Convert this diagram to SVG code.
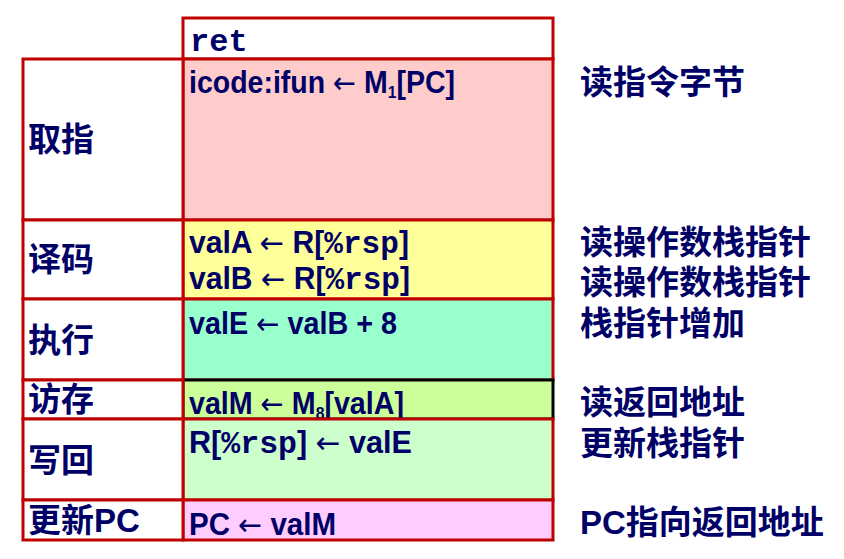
<svg xmlns="http://www.w3.org/2000/svg" width="844" height="559" viewBox="0 0 844 559">
<style>
.cell{stroke:#C00000;stroke-width:3}
.blk{stroke:#000000;stroke-width:3}
.t{font-family:"Liberation Sans",Arial,sans-serif;font-weight:bold;font-size:31px;fill:#000066}
.m{font-family:"Liberation Mono","Courier New",monospace;font-weight:bold;font-size:32px}
.ar{font-family:"DejaVu Sans",sans-serif;font-weight:normal;font-size:30px}
.cj{font-family:"Liberation Sans","Noto Sans CJK SC",sans-serif;font-weight:bold;font-size:33px;fill:#000066}
.sub{font-size:17px}
</style>
<rect width="844" height="559" fill="#ffffff"/>
<g id="ret-cell">
<rect class="cell" x="183" y="18" width="370" height="41" fill="#ffffff"/>
<text class="t m" x="190" y="51">ret</text>
</g>
<g id="fetch-cell">
<rect class="cell" x="183" y="59" width="370" height="161" fill="#FFCCCC"/>
<text class="t" transform="translate(189,93) scale(0.919,1)">icode:ifun <tspan class="ar">←</tspan> M<tspan class="sub" dy="5">1</tspan><tspan dy="-5">[PC]</tspan></text>
</g>
<g id="decode-cell">
<rect class="cell" x="183" y="220" width="370" height="79" fill="#FFFF99"/>
<text class="t" transform="translate(189,253) scale(0.971,1)">valA <tspan class="ar">←</tspan> R[<tspan class="m">%rsp</tspan>]</text>
<text class="t" transform="translate(189,289) scale(0.971,1)">valB <tspan class="ar">←</tspan> R[<tspan class="m">%rsp</tspan>]</text>
</g>
<g id="execute-cell">
<rect class="cell" x="183" y="299" width="370" height="81" fill="#99FFCC"/>
<text class="t" transform="translate(189,334) scale(0.928,1)">valE <tspan class="ar">←</tspan> valB + 8</text>
</g>
<g id="memory-cell">
<rect class="blk" x="183" y="380" width="370" height="39" fill="#CCFF99"/>
<text class="t" transform="translate(189,414) scale(0.924,1)">valM <tspan class="ar">←</tspan> M<tspan class="sub" dy="5">8</tspan><tspan dy="-5">[valA]</tspan></text>
</g>
<g id="writeback-cell">
<rect class="cell" x="183" y="419" width="370" height="81" fill="#CCFFCC"/>
<text class="t" transform="translate(189,453) scale(0.987,1)">R[<tspan class="m">%rsp</tspan>] <tspan class="ar">←</tspan> valE</text>
</g>
<g id="pc-cell">
<rect class="cell" x="183" y="500" width="370" height="40" fill="#FFCCFF"/>
<text class="t" transform="translate(189,535) scale(0.953,1)">PC <tspan class="ar">←</tspan> valM</text>
</g>
<g id="fetch-label">
<rect class="cell" x="23" y="59" width="160" height="161" fill="#ffffff"/>
<text class="cj" x="28" y="151">取指</text>
</g>
<g id="decode-label">
<rect class="cell" x="23" y="220" width="160" height="79" fill="#ffffff"/>
<text class="cj" x="28" y="271">译码</text>
</g>
<g id="execute-label">
<rect class="cell" x="23" y="299" width="160" height="81" fill="#ffffff"/>
<text class="cj" x="28" y="352">执行</text>
</g>
<g id="memory-label">
<rect class="cell" x="23" y="380" width="160" height="39" fill="#ffffff"/>
<text class="cj" x="28" y="411">访存</text>
</g>
<g id="writeback-label">
<rect class="cell" x="23" y="419" width="160" height="81" fill="#ffffff"/>
<text class="cj" x="28" y="472">写回</text>
</g>
<g id="pc-label">
<rect class="cell" x="23" y="500" width="160" height="40" fill="#ffffff"/>
<text class="cj" x="28" y="532">更新PC</text>
</g>
<g id="notes">
<text class="cj" x="580" y="94">读指令字节</text>
<text class="cj" x="580" y="254">读操作数栈指针</text>
<text class="cj" x="580" y="294">读操作数栈指针</text>
<text class="cj" x="580" y="335">栈指针增加</text>
<text class="cj" x="580" y="414">读返回地址</text>
<text class="cj" x="580" y="455">更新栈指针</text>
<text class="cj" x="580" y="534">PC指向返回地址</text>
</g>
<g id="connectors"></g>
</svg>
